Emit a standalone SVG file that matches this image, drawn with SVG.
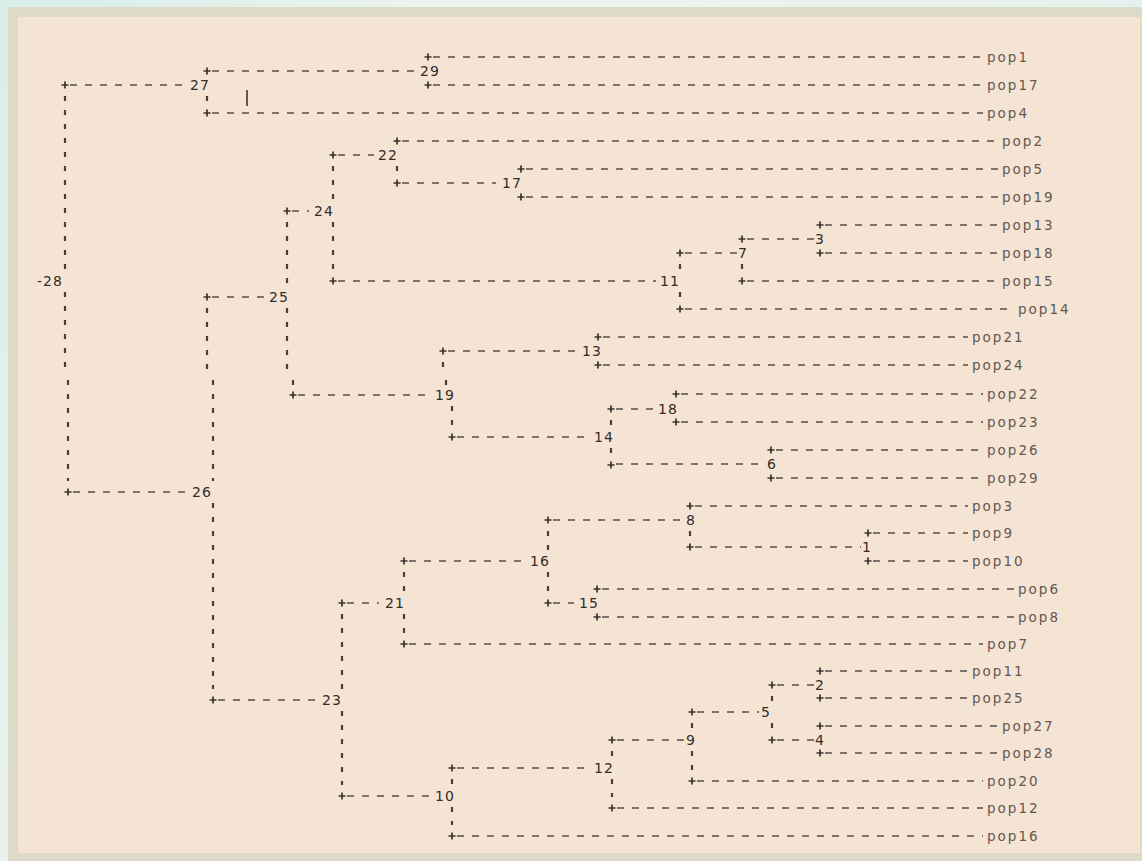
<svg xmlns="http://www.w3.org/2000/svg" width="1142" height="861" viewBox="0 0 1142 861">
<defs>
<linearGradient id="bg" x1="0" y1="0" x2="1" y2="0.3">
<stop offset="0" stop-color="#d9eee8"/>
<stop offset="0.4" stop-color="#eef4ef"/>
<stop offset="1" stop-color="#e4f0ec"/>
</linearGradient>
<style>
.h{fill:none;stroke:#554d47;stroke-width:1.6;stroke-dasharray:7 8}
.v{fill:none;stroke:#463f3a;stroke-width:2.2;stroke-dasharray:5 9}
.p{fill:none;stroke:#3a332e;stroke-width:1.7}
.n{font-family:"DejaVu Sans",sans-serif;font-size:14px;fill:#332c28;letter-spacing:1px;text-anchor:middle}
.l{font-family:"DejaVu Sans",sans-serif;font-size:13.5px;fill:#625850;letter-spacing:2px}
</style>
</defs>
<rect x="0" y="0" width="1142" height="861" fill="url(#bg)"/>
<rect x="8" y="7" width="1134" height="854" fill="#dddac7"/>
<rect x="18" y="17" width="1122" height="836" fill="#f5e4d4"/>

<g id="connectors">
<path class="h" d="M212 71H418M70 85H184M73 492H188M212 297H264M292 211H309M338 155H374M402 183H496M338 281H656M685 253H737M747 239H814M298 395H429M448 351H579M457 437H589M616 409H654M616 464H765M218 700H317M347 603H379M409 561H524M553 520H684M695 547H861M553 603H574M347 796H429M457 768H589M617 740H684M697 712H759M777 685H814M777 740H814"/>
<path class="h" d="M433 57H983M433 85H983M212 113H983M402 141H998M526 169H998M526 197H998M825 225H998M825 253H998M747 281H998M685 309H1014M603 337H968M603 365H968M681 394H983M681 422H983M776 450H983M776 478H983M695 506H968M873 533H968M873 561H968M602 589H1014M602 617H1014M409 644H983M825 671H968M825 698H968M825 726H998M825 753H998M697 781H983M617 808H983M457 836H983"/>
<path class="v" d="M207 96V102M65 96V270M65 292V370M68 380V481M207 308V370M213 380V481M213 503V689M287 222V286M287 308V372M293 380V386M333 166V200M333 222V270M397 166V172M680 264V270M680 292V298M742 264V270M443 362V372M446 380V386M452 406V426M611 420V426M611 448V454M342 614V689M342 711V785M404 572V592M404 614V633M548 531V550M548 572V592M690 531V536M452 779V785M452 807V825M612 751V757M612 779V797M692 723V729M692 751V770M772 696V701M772 723V729"/>
<path class="p" d="M424.5 57h7M428 53.5v7M424.5 85h7M428 81.5v7M203.5 71h7M207 67.5v7M203.5 113h7M207 109.5v7M61.5 85h7M65 81.5v7M64.5 492h7M68 488.5v7M203.5 297h7M207 293.5v7M209.5 700h7M213 696.5v7M283.5 211h7M287 207.5v7M289.5 395h7M293 391.5v7M329.5 155h7M333 151.5v7M329.5 281h7M333 277.5v7M393.5 141h7M397 137.5v7M393.5 183h7M397 179.5v7M517.5 169h7M521 165.5v7M517.5 197h7M521 193.5v7M676.5 253h7M680 249.5v7M676.5 309h7M680 305.5v7M738.5 239h7M742 235.5v7M738.5 281h7M742 277.5v7M816.5 225h7M820 221.5v7M816.5 253h7M820 249.5v7M439.5 351h7M443 347.5v7M448.5 437h7M452 433.5v7M594.5 337h7M598 333.5v7M594.5 365h7M598 361.5v7M607.5 409h7M611 405.5v7M607.5 465h7M611 461.5v7M672.5 394h7M676 390.5v7M672.5 422h7M676 418.5v7M767.5 450h7M771 446.5v7M767.5 478h7M771 474.5v7M338.5 603h7M342 599.5v7M338.5 796h7M342 792.5v7M400.5 561h7M404 557.5v7M400.5 644h7M404 640.5v7M544.5 520h7M548 516.5v7M544.5 603h7M548 599.5v7M686.5 506h7M690 502.5v7M686.5 547h7M690 543.5v7M864.5 533h7M868 529.5v7M864.5 561h7M868 557.5v7M593.5 589h7M597 585.5v7M593.5 617h7M597 613.5v7M448.5 768h7M452 764.5v7M448.5 836h7M452 832.5v7M608.5 740h7M612 736.5v7M608.5 808h7M612 804.5v7M688.5 712h7M692 708.5v7M688.5 781h7M692 777.5v7M768.5 685h7M772 681.5v7M768.5 740h7M772 736.5v7M816.5 671h7M820 667.5v7M816.5 698h7M820 694.5v7M816.5 726h7M820 722.5v7M816.5 753h7M820 749.5v7"/>
<path d="M247 90V106" stroke="#2e2a27" stroke-width="1.5"/>
</g>

<g id="node-29"><text class="n" x="430" y="76">29</text></g>
<g id="node-27"><text class="n" x="200" y="90">27</text></g>
<g id="node-28"><text class="n" x="50" y="286">-28</text></g>
<g id="node-26"><text class="n" x="202" y="497">26</text></g>
<g id="node-25"><text class="n" x="279" y="302">25</text></g>
<g id="node-24"><text class="n" x="324" y="216">24</text></g>
<g id="node-22"><text class="n" x="388" y="160">22</text></g>
<g id="node-17"><text class="n" x="512" y="188">17</text></g>
<g id="node-11"><text class="n" x="670" y="286">11</text></g>
<g id="node-7"><text class="n" x="743" y="258">7</text></g>
<g id="node-3"><text class="n" x="820" y="244">3</text></g>
<g id="node-19"><text class="n" x="445" y="400">19</text></g>
<g id="node-13"><text class="n" x="592" y="356">13</text></g>
<g id="node-14"><text class="n" x="604" y="442">14</text></g>
<g id="node-18"><text class="n" x="668" y="414">18</text></g>
<g id="node-6"><text class="n" x="772" y="469">6</text></g>
<g id="node-23"><text class="n" x="332" y="705">23</text></g>
<g id="node-21"><text class="n" x="395" y="608">21</text></g>
<g id="node-16"><text class="n" x="540" y="566">16</text></g>
<g id="node-8"><text class="n" x="691" y="525">8</text></g>
<g id="node-1"><text class="n" x="867" y="552">1</text></g>
<g id="node-15"><text class="n" x="589" y="608">15</text></g>
<g id="node-10"><text class="n" x="445" y="801">10</text></g>
<g id="node-12"><text class="n" x="604" y="773">12</text></g>
<g id="node-9"><text class="n" x="691" y="745">9</text></g>
<g id="node-5"><text class="n" x="766" y="717">5</text></g>
<g id="node-2"><text class="n" x="820" y="690">2</text></g>
<g id="node-4"><text class="n" x="820" y="745">4</text></g>

<g id="pop1"><text class="l" x="987" y="62">pop1</text></g>
<g id="pop17"><text class="l" x="987" y="90">pop17</text></g>
<g id="pop4"><text class="l" x="987" y="118">pop4</text></g>
<g id="pop2"><text class="l" x="1002" y="146">pop2</text></g>
<g id="pop5"><text class="l" x="1002" y="174">pop5</text></g>
<g id="pop19"><text class="l" x="1002" y="202">pop19</text></g>
<g id="pop13"><text class="l" x="1002" y="230">pop13</text></g>
<g id="pop18"><text class="l" x="1002" y="258">pop18</text></g>
<g id="pop15"><text class="l" x="1002" y="286">pop15</text></g>
<g id="pop14"><text class="l" x="1018" y="314">pop14</text></g>
<g id="pop21"><text class="l" x="972" y="342">pop21</text></g>
<g id="pop24"><text class="l" x="972" y="370">pop24</text></g>
<g id="pop22"><text class="l" x="987" y="399">pop22</text></g>
<g id="pop23"><text class="l" x="987" y="427">pop23</text></g>
<g id="pop26"><text class="l" x="987" y="455">pop26</text></g>
<g id="pop29"><text class="l" x="987" y="483">pop29</text></g>
<g id="pop3"><text class="l" x="972" y="511">pop3</text></g>
<g id="pop9"><text class="l" x="972" y="538">pop9</text></g>
<g id="pop10"><text class="l" x="972" y="566">pop10</text></g>
<g id="pop6"><text class="l" x="1018" y="594">pop6</text></g>
<g id="pop8"><text class="l" x="1018" y="622">pop8</text></g>
<g id="pop7"><text class="l" x="987" y="649">pop7</text></g>
<g id="pop11"><text class="l" x="972" y="676">pop11</text></g>
<g id="pop25"><text class="l" x="972" y="703">pop25</text></g>
<g id="pop27"><text class="l" x="1002" y="731">pop27</text></g>
<g id="pop28"><text class="l" x="1002" y="758">pop28</text></g>
<g id="pop20"><text class="l" x="987" y="786">pop20</text></g>
<g id="pop12"><text class="l" x="987" y="813">pop12</text></g>
<g id="pop16"><text class="l" x="987" y="841">pop16</text></g>
</svg>
